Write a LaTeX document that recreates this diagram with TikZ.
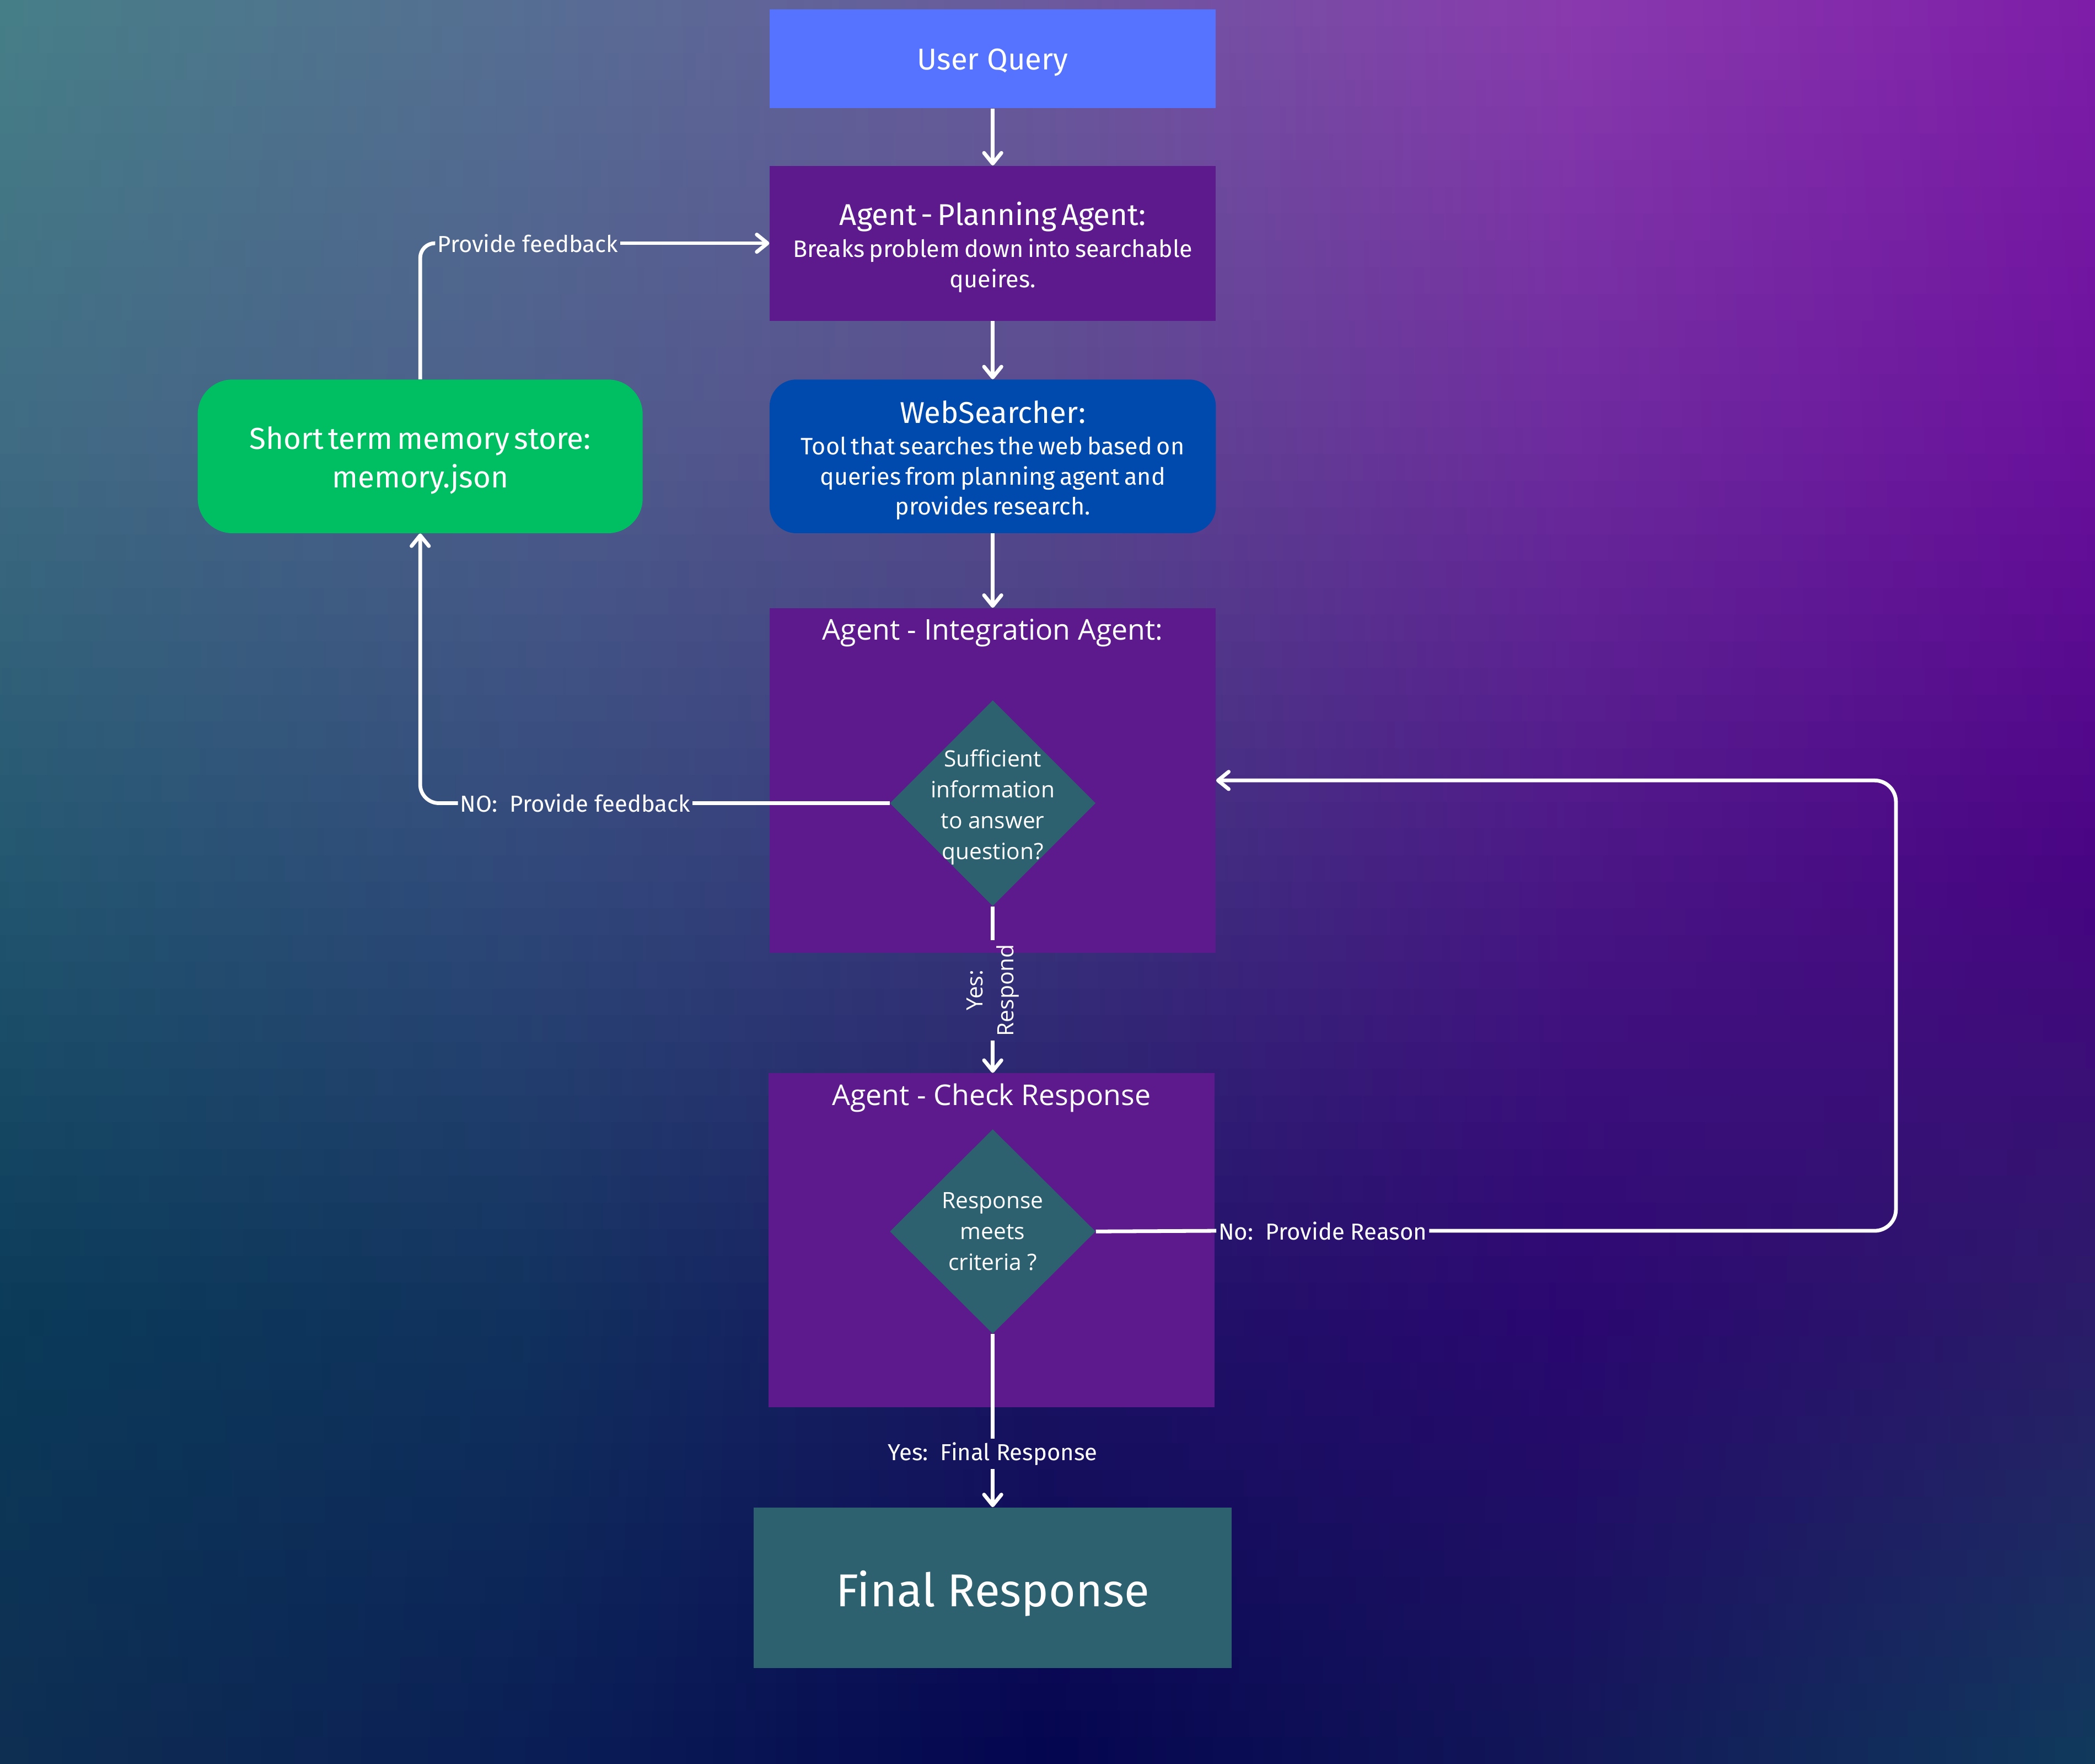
\documentclass[tikz,border=0pt]{standalone}
\usepackage{fontspec}
\setmainfont{Fira Sans}
\newfontfamily\roundfont{Open Sans}
\usetikzlibrary{arrows.meta,shapes.geometric}

% background gradient control grid: rows at y = 0, 330, 660, 990, 1320; columns at x = 0, 392, 784, 1176, 1568
\definecolor{bg00}{HTML}{467F87}\definecolor{bg01}{HTML}{566E93}\definecolor{bg02}{HTML}{6C5A9E}\definecolor{bg03}{HTML}{8A3AAE}\definecolor{bg04}{HTML}{7E1EA8}
\definecolor{bg10}{HTML}{3F6B83}\definecolor{bg11}{HTML}{4E5E8C}\definecolor{bg12}{HTML}{5A4A8E}\definecolor{bg13}{HTML}{6E2A9E}\definecolor{bg14}{HTML}{6A109C}
\definecolor{bg20}{HTML}{22566F}\definecolor{bg21}{HTML}{30487A}\definecolor{bg22}{HTML}{3A347C}\definecolor{bg23}{HTML}{4A1685}\definecolor{bg24}{HTML}{470482}
\definecolor{bg30}{HTML}{0A3A58}\definecolor{bg31}{HTML}{10315D}\definecolor{bg32}{HTML}{1C1364}\definecolor{bg33}{HTML}{2A0770}\definecolor{bg34}{HTML}{2A1C68}
\definecolor{bg40}{HTML}{0E2E52}\definecolor{bg41}{HTML}{0A1E55}\definecolor{bg42}{HTML}{04054F}\definecolor{bg43}{HTML}{121858}\definecolor{bg44}{HTML}{0F3A5C}

\definecolor{userblue}{HTML}{5573FF}
\definecolor{agentpurple}{HTML}{5C1A8D}
\definecolor{webblue}{HTML}{004AAD}
\definecolor{memgreen}{HTML}{00BF63}
\definecolor{decteal}{HTML}{2D6170}

\begin{document}
\begin{tikzpicture}[x=1pt,y=-1pt,
  box/.style={rectangle, inner sep=0pt, text=white, align=center},
  titletext/.style={anchor=base, text=white, inner sep=0pt, font=\roundfont\fontsize{21.4}{26}\selectfont},
  decision/.style={diamond, fill=decteal, inner sep=0pt, minimum width=154pt, minimum height=154pt},
  dtext/.style={text=white, align=center, inner sep=0pt, font=\roundfont\fontsize{16.8}{23}\selectfont},
  flowlbl/.style={text=white, inner sep=1.5pt, font=\fontsize{17.3}{21}\selectfont},
  flow/.style={draw=white, line width=2.8pt},
  arrowflow/.style={flow, -{Straight Barb[length=8pt,width=13pt,round]}},
]
\useasboundingbox (0,0) rectangle (1568,1320);

% background
\begin{scope}
\clip (0,0) rectangle (1568,1320);
\foreach \i in {0,...,65}{
  \pgfmathsetmacro\yc{\i*20+10}
  \pgfmathtruncatemacro\seg{min(3,floor(\yc/330))}
  \pgfmathtruncatemacro\nxt{\seg+1}
  \pgfmathsetmacro\pct{100-(\yc-\seg*330)/3.3}
  \colorlet{rc0}{bg\seg0!\pct!bg\nxt0}
  \colorlet{rc1}{bg\seg1!\pct!bg\nxt1}
  \colorlet{rc2}{bg\seg2!\pct!bg\nxt2}
  \colorlet{rc3}{bg\seg3!\pct!bg\nxt3}
  \colorlet{rc4}{bg\seg4!\pct!bg\nxt4}
  \pgfmathsetmacro\ya{\i*20}
  \pgfmathsetmacro\yb{\i*20+20.6}
  \shade[left color=rc0,right color=rc1] (0,\ya) rectangle (392.5,\yb);
  \shade[left color=rc1,right color=rc2] (392,\ya) rectangle (784.5,\yb);
  \shade[left color=rc2,right color=rc3] (784,\ya) rectangle (1176.5,\yb);
  \shade[left color=rc3,right color=rc4] (1176,\ya) rectangle (1568,\yb);
}
\end{scope}

% main column
\node[box, fill=userblue, minimum width=334pt, minimum height=74pt, text height=16pt, text depth=0pt,
      font=\fontsize{22.5}{27}\selectfont] (user) at (743,44) {User Query};

\node[box, fill=agentpurple, minimum width=334pt, minimum height=116pt, text width=330pt] (plan) at (743,182)
  {{\fontsize{22.5}{27}\selectfont Agent - Planning Agent:\par}\vspace{1pt}%
   \fontsize{17.8}{23}\selectfont Breaks problem down into searchable\\ queires.\par\kern-6pt};

\node[box, fill=webblue, rounded corners=20pt, minimum width=334pt, minimum height=115pt, text width=330pt] (web) at (743,341.5)
  {{\fontsize{22.5}{27}\selectfont WebSearcher:\par}\vspace{1pt}%
   \fontsize{17.8}{22.5}\selectfont Tool that searches the web based on\\ queries from planning agent and\\ provides research.\par\kern-6pt};

\node[box, fill=memgreen, rounded corners=26pt, minimum width=333pt, minimum height=115pt, text width=320pt]
  (mem) at (314.5,341.5) {\fontsize{22.6}{29}\selectfont Short term memory store:\\ memory.json\par\kern-6pt};

\node[box, fill=agentpurple, minimum width=334pt, minimum height=258pt] (integ) at (743,584) {};
\node[titletext] (integtitle) at (743,479) {Agent - Integration Agent:};
\node[decision] (d1) at (743,601) {};
\node[dtext] (d1text) at (743,604) {Sufficient\\ information\\ to answer\\ question?};

\node[box, fill=agentpurple, minimum width=334pt, minimum height=250pt] (check) at (742,928) {};
\node[titletext] (checktitle) at (742,827) {Agent - Check Response};
\node[decision, minimum height=153pt] (d2) at (743,921.5) {};
\node[dtext] (d2text) at (d2.center) {Response\\ meets\\ criteria ?};

\node[box, fill=decteal, minimum width=358pt, minimum height=120pt, text height=28pt, text depth=0pt,
      font=\fontsize{34.5}{40}\selectfont] (final) at (743,1188) {Final Response};

% connector labels
\node[flowlbl] (pf) at (395,182) {Provide feedback};
\node[flowlbl] (nofb) at (430.5,601) {NO:\ \ Provide feedback};
\node[rotate=90, text=white, align=center, inner sep=3pt,
      font=\roundfont\fontsize{16.8}{23}\selectfont] (yesr) at (743,741) {Yes:\\ Respond};
\node[flowlbl] (noreason) at (990,921) {No:\ \ Provide Reason};
\node[flowlbl, inner sep=2.5pt] (yesfinal) at (743,1088) {Yes:\ \ Final Response};
\coordinate (loopcorner) at (1419,584);

% connectors
\draw[arrowflow] (user) -- (plan);
\draw[arrowflow] (plan) -- (web);
\draw[arrowflow] (web) -- (integ);

\draw[flow] (d1.west) -- (nofb.east);
\draw[arrowflow, rounded corners=14pt] (nofb.west) -| (mem.south);
\draw[flow, rounded corners=11pt] (mem.north) |- (pf.west);
\draw[arrowflow] (pf.east) -- (plan.west);

\draw[flow] (d1.south) -- (yesr.east);
\draw[arrowflow] (yesr.west) -- (yesr.west |- check.north);

\draw[flow] (d2.east) -- (noreason.west);
\draw[arrowflow, rounded corners=16pt] (noreason.east) -| (loopcorner) -- (integ.east);

\draw[flow] (d2.south) -- (yesfinal.north);
\draw[arrowflow] (yesfinal.south) -- (final.north);
\end{tikzpicture}
\end{document}
